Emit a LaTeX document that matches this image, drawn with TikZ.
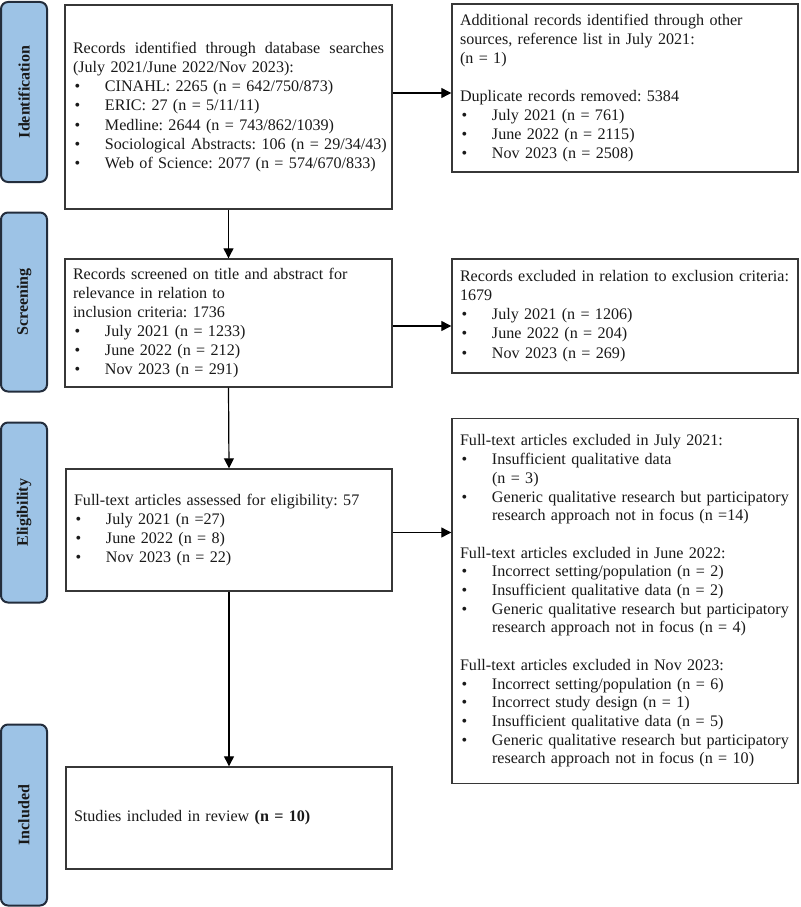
\documentclass[tikz,border=0pt]{standalone}
\usepackage{fontspec}
\setmainfont{Liberation Serif}
\usetikzlibrary{arrows.meta,calc}
\definecolor{stagefill}{RGB}{157,195,230}
\definecolor{stageline}{RGB}{35,45,60}
\definecolor{boxline}{RGB}{55,55,55}
\definecolor{txt}{RGB}{25,25,25}
\frenchspacing
\hyphenpenalty=10000
\exhyphenpenalty=10000
\newcommand{\ml}[1]{\mbox{#1}}
\newcommand{\bitem}[1]{\mbox{\makebox[32pt][l]{\hspace{1.5pt}\textbullet}#1}}
\newcommand{\cont}[1]{\mbox{\hspace*{32pt}#1}}
\begin{document}
\begin{tikzpicture}[x=1pt,y=-1pt,
  every node/.style={text=txt},
  flowbox/.style={draw=boxline, line width=1.4pt, rectangle, inner xsep=8pt, inner ysep=2pt, align=left, font=\fontsize{16.1}{19.1}\selectfont\frenchspacing},
  stage/.style={draw=stageline, fill=stagefill, line width=2pt, rounded corners=7pt, rotate=90, minimum height=46pt, inner sep=0pt, font=\bfseries\fontsize{16}{19}\selectfont},
  arr/.style={draw=black, line width=1.2pt, -{Triangle[length=10pt,width=10pt]}}
]
\fill[white] (0,0) rectangle (800,907);
\useasboundingbox (0,0) rectangle (800,907);

% stage labels
\node[stage, minimum width=180pt] (sid) at (24,92) {Identification};
\node[stage, minimum width=179pt] (ssc) at (24,302) {Screening};
\node[stage, minimum width=180pt] (sel) at (24,512.5) {Eligibility};
\node[stage, minimum width=181pt] (sin) at (24,815) {Included};

% boxes
\node[flowbox, text width=311pt, minimum height=204pt] (b1) at (228.5,107) {%
\hbox to 311pt{Records\hfill identified\hfill through\hfill database\hfill searches}\\
\ml{(July 2021/June 2022/Nov 2023):}\\
\bitem{CINAHL: 2265 (n = 642/750/873)}\\
\bitem{ERIC: 27 (n = 5/11/11)}\\
\bitem{Medline: 2644 (n = 743/862/1039)}\\
\bitem{Sociological Abstracts: 106 (n = 29/34/43)}\\
\bitem{Web of Science: 2077 (n = 574/670/833)}};

\node[flowbox, text width=330pt, minimum height=168pt] (b2) at (625,88) {%
\ml{Additional records identified through other}\\
\ml{sources, reference list in July 2021:}\\
\ml{(n = 1)}\\
\mbox{}\\
\ml{Duplicate records removed: 5384}\\
\bitem{July 2021 (n = 761)}\\
\bitem{June 2022 (n = 2115)}\\
\bitem{Nov 2023 (n = 2508)}};

\node[flowbox, text width=311pt, minimum height=128pt] (b3) at (228.5,323) {%
\ml{Records screened on title and abstract for}\\
\ml{relevance in relation to}\\
\ml{inclusion criteria: 1736}\\
\bitem{July 2021 (n = 1233)}\\
\bitem{June 2022 (n = 212)}\\
\bitem{Nov 2023 (n = 291)}};

\node[flowbox, text width=330pt, minimum height=114pt] (b4) at (625,316) {%
\ml{Records excluded in relation to exclusion criteria:}\\
\ml{1679}\\
\bitem{July 2021 (n = 1206)}\\
\bitem{June 2022 (n = 204)}\\
\bitem{Nov 2023 (n = 269)}};

\node[flowbox, text width=310pt, minimum height=122pt] (b5) at (229,530) {%
\ml{Full-text articles assessed for eligibility: 57}\\
\bitem{July 2021 (n =27)}\\
\bitem{June 2022 (n = 8)}\\
\bitem{Nov 2023 (n = 22)}};

\node[flowbox, inner ysep=0pt, text width=330pt, minimum height=365pt, font=\fontsize{16.1}{18.7}\selectfont\frenchspacing] (b6) at (625,601) {%
\ml{Full-text articles excluded in July 2021:}\\
\bitem{Insufficient qualitative data}\\
\cont{(n = 3)}\\
\bitem{Generic qualitative research but participatory}\\
\cont{research approach not in focus (n =14)}\\
\mbox{}\\
\ml{Full-text articles excluded in June 2022:}\\
\bitem{Incorrect setting/population (n = 2)}\\
\bitem{Insufficient qualitative data (n = 2)}\\
\bitem{Generic qualitative research but participatory}\\
\cont{research approach not in focus (n = 4)}\\
\mbox{}\\
\ml{Full-text articles excluded in Nov 2023:}\\
\bitem{Incorrect setting/population (n = 6)}\\
\bitem{Incorrect study design (n = 1)}\\
\bitem{Insufficient qualitative data (n = 5)}\\
\bitem{Generic qualitative research but participatory}\\
\cont{research approach not in focus (n = 10)}};

\node[flowbox, text width=310pt, minimum height=102pt] (b7) at (229,818) {%
\ml{Studies included in review \textbf{(n = 10)}}};

% connectors
\draw[arr] ([yshift=14pt]b1.east) -- ([yshift=14pt]b1.east -| b2.west);
\draw[arr] (b1.south) -- (b3.north);
\draw[arr] ([yshift=-3pt]b3.east) -- ([yshift=-3pt]b3.east -| b4.west);
\draw[arr] (b3.south) -- (b5.north);
\draw[arr] ([yshift=-2.5pt]b5.east) -- ([yshift=-2.5pt]b5.east -| b6.west);
\draw[arr] (b5.south) -- (b7.north);
\end{tikzpicture}
\end{document}
